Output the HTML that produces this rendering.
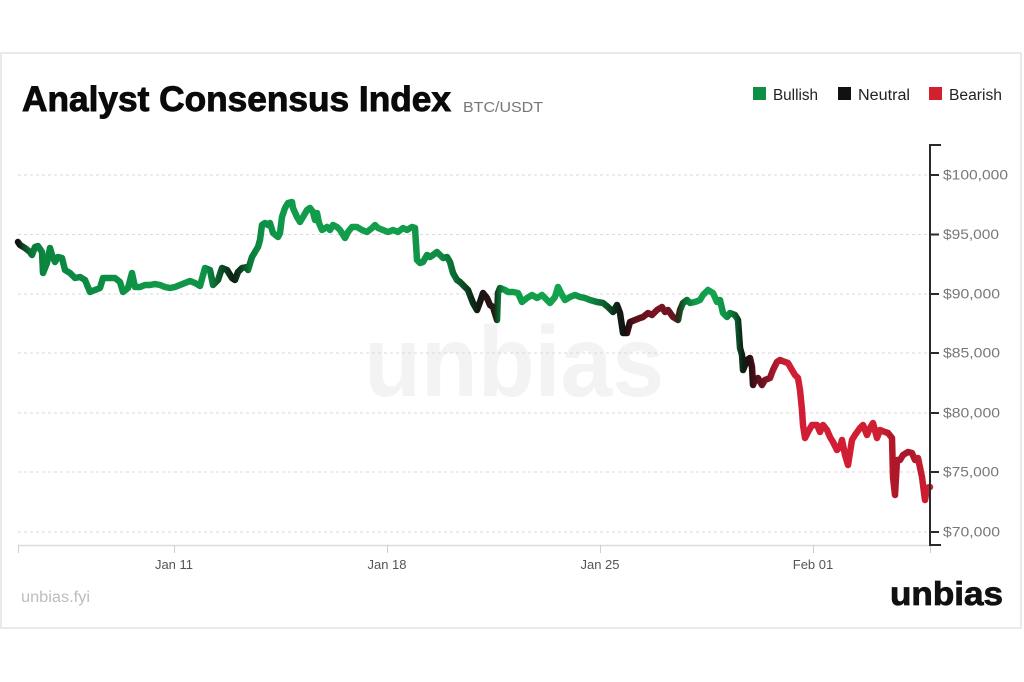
<!DOCTYPE html>
<html>
<head>
<meta charset="utf-8">
<style>
  html,body{margin:0;padding:0;background:#fff;}
  svg{display:block;}
  text{font-family:"Liberation Sans",sans-serif;}
</style>
</head>
<body>
<svg width="1024" height="682" viewBox="0 0 1024 682" xmlns="http://www.w3.org/2000/svg">
  <defs>
    <linearGradient id="lg" gradientUnits="userSpaceOnUse" x1="0" y1="0" x2="1000" y2="0">
      <stop offset="0.018" stop-color="#111111"/>
      <stop offset="0.024" stop-color="#0c4a24"/>
      <stop offset="0.032" stop-color="#0a7a3a"/>
      <stop offset="0.045" stop-color="#0b8640"/>
      <stop offset="0.100" stop-color="#0c8c43"/>
      <stop offset="0.160" stop-color="#109a49"/>
      <stop offset="0.205" stop-color="#0e9246"/>
      <stop offset="0.215" stop-color="#0b6a33"/>
      <stop offset="0.225" stop-color="#0a3d1f"/>
      <stop offset="0.233" stop-color="#0c1f12"/>
      <stop offset="0.240" stop-color="#0b3a1e"/>
      <stop offset="0.250" stop-color="#0a7a3a"/>
      <stop offset="0.262" stop-color="#0d9045"/>
      <stop offset="0.300" stop-color="#119c4b"/>
      <stop offset="0.400" stop-color="#129e4c"/>
      <stop offset="0.440" stop-color="#0e8a43"/>
      <stop offset="0.455" stop-color="#0a6a32"/>
      <stop offset="0.468" stop-color="#0c3a1e"/>
      <stop offset="0.478" stop-color="#101a12"/>
      <stop offset="0.488" stop-color="#2a1015"/>
      <stop offset="0.494" stop-color="#1f2216"/>
      <stop offset="0.498" stop-color="#0d5c2c"/>
      <stop offset="0.505" stop-color="#0f9a49"/>
      <stop offset="0.560" stop-color="#13a44e"/>
      <stop offset="0.590" stop-color="#0f8a42"/>
      <stop offset="0.605" stop-color="#0b5e2d"/>
      <stop offset="0.615" stop-color="#0c2a17"/>
      <stop offset="0.625" stop-color="#150f10"/>
      <stop offset="0.635" stop-color="#5a1019"/>
      <stop offset="0.655" stop-color="#7a1422"/>
      <stop offset="0.672" stop-color="#6a1520"/>
      <stop offset="0.678" stop-color="#2a2a18"/>
      <stop offset="0.684" stop-color="#0b6a33"/>
      <stop offset="0.695" stop-color="#0f9a49"/>
      <stop offset="0.715" stop-color="#13a44e"/>
      <stop offset="0.728" stop-color="#0d8a42"/>
      <stop offset="0.736" stop-color="#0a5a2c"/>
      <stop offset="0.742" stop-color="#0c2414"/>
      <stop offset="0.748" stop-color="#1e1010"/>
      <stop offset="0.755" stop-color="#4a0f18"/>
      <stop offset="0.765" stop-color="#7a1422"/>
      <stop offset="0.778" stop-color="#b81a2e"/>
      <stop offset="0.790" stop-color="#d21e34"/>
      <stop offset="0.880" stop-color="#d01e33"/>
      <stop offset="0.892" stop-color="#b0182a"/>
      <stop offset="0.910" stop-color="#a8182a"/>
      <stop offset="0.920" stop-color="#c41c30"/>
      <stop offset="0.930" stop-color="#d21e34"/>
    </linearGradient>
  </defs>

  <!-- card -->
  <rect x="1" y="53" width="1020" height="575" fill="#ffffff" stroke="#e3e3e3" stroke-width="1.5"/>

  <!-- title -->
  <text x="22" y="111" font-size="35" font-weight="bold" fill="#0a0a0a" stroke="#0a0a0a" stroke-width="0.9" textLength="429" lengthAdjust="spacingAndGlyphs">Analyst Consensus Index</text>
  <text x="463" y="112" font-size="15" fill="#777" textLength="80" lengthAdjust="spacingAndGlyphs">BTC/USDT</text>

  <!-- legend -->
  <rect x="753" y="87" width="13" height="13" fill="#0d8f45"/>
  <text x="773" y="100" font-size="15.5" fill="#222" textLength="45" lengthAdjust="spacingAndGlyphs">Bullish</text>
  <rect x="838" y="87" width="13" height="13" fill="#111"/>
  <text x="858" y="100" font-size="15.5" fill="#222" textLength="52" lengthAdjust="spacingAndGlyphs">Neutral</text>
  <rect x="929" y="87" width="13" height="13" fill="#d2202f"/>
  <text x="949" y="100" font-size="15.5" fill="#222" textLength="53" lengthAdjust="spacingAndGlyphs">Bearish</text>

  <!-- watermark -->
  <text x="364" y="396" font-size="100" font-weight="bold" fill="#f3f3f3" textLength="300" lengthAdjust="spacingAndGlyphs">unbias</text>

  <!-- gridlines -->
  <g stroke="#d9d9d9" stroke-width="1" stroke-dasharray="3 3">
    <line x1="18" y1="175" x2="930" y2="175"/>
    <line x1="18" y1="234.5" x2="930" y2="234.5"/>
    <line x1="18" y1="294" x2="930" y2="294"/>
    <line x1="18" y1="353" x2="930" y2="353"/>
    <line x1="18" y1="413" x2="930" y2="413"/>
    <line x1="18" y1="472" x2="930" y2="472"/>
    <line x1="18" y1="532" x2="930" y2="532"/>
  </g>

  <!-- x axis -->
  <line x1="18" y1="545.5" x2="930" y2="545.5" stroke="#dcdcdc" stroke-width="1.5"/>
  <g stroke="#cfcfcf" stroke-width="1">
    <line x1="18.5" y1="545" x2="18.5" y2="553"/>
    <line x1="174.5" y1="545" x2="174.5" y2="553"/>
    <line x1="387.5" y1="545" x2="387.5" y2="553"/>
    <line x1="600.5" y1="545" x2="600.5" y2="553"/>
    <line x1="813.5" y1="545" x2="813.5" y2="553"/>
    <line x1="930.5" y1="545" x2="930.5" y2="553"/>
  </g>
  <g font-size="13" fill="#555" text-anchor="middle">
    <text x="174" y="569">Jan 11</text>
    <text x="387" y="569">Jan 18</text>
    <text x="600" y="569">Jan 25</text>
    <text x="813" y="569">Feb 01</text>
  </g>

  <!-- series -->
  <polyline fill="none" stroke="url(#lg)" stroke-width="6.5" stroke-linejoin="round" stroke-linecap="round"
    points="18,242 20,245 25,248 30,252 32,255 35,247 38,246 42,252 43,273 47,263 50,248 52,255 55,262 58,257 62,258 65,270 70,273 75,278 80,277 85,280 90,292 95,290 100,288 103,278 108,278 115,278 120,282 123,292 128,288 132,273 135,287 140,287 145,285 150,285 155,284 160,285 165,287 170,288 175,287 180,285 185,283 190,281 195,283 200,286 205,268 210,270 213,285 218,280 222,268 227,270 232,278 235,280 238,272 242,268 247,267 248,270 252,257 255,252 258,247 260,240 262,225 265,223 268,225 270,223 273,233 278,237 280,233 282,217 285,208 288,203 292,202 293,208 297,217 300,222 303,217 307,210 310,208 313,212 315,220 317,213 319,223 322,230 327,227 330,230 333,225 337,227 340,230 345,238 348,232 352,227 357,227 362,230 367,232 372,228 375,225 378,228 383,230 388,232 393,230 398,232 403,228 407,230 412,227 415,228 417,260 420,263 423,262 427,255 430,257 433,255 437,252 440,255 443,258 447,257 450,262 453,273 457,280 460,282 463,285 468,290 473,303 477,310 480,302 483,293 487,298 490,305 493,307 497,320 498,293 500,288 505,290 508,292 513,292 518,293 522,302 527,298 532,295 537,298 542,295 545,298 550,303 555,297 558,287 562,295 565,300 570,297 575,295 580,297 585,298 590,300 597,302 603,303 608,307 613,312 617,305 620,313 623,333 627,333 630,322 635,320 640,318 643,317 648,313 652,315 657,310 662,307 665,312 668,310 673,317 678,320 680,310 683,303 687,300 690,303 695,302 700,300 703,295 708,290 713,293 717,302 720,300 723,313 727,317 730,313 735,315 738,320 740,348 742,355 743,370 747,360 750,358 752,367 753,385 755,380 758,378 762,385 765,380 770,378 773,370 777,362 780,360 785,362 788,363 792,370 795,375 798,378 800,390 802,410 803,425 805,438 808,432 812,425 817,425 820,432 823,425 827,430 830,437 833,442 837,450 840,447 842,440 845,455 848,465 852,440 855,435 860,428 863,425 867,435 870,428 873,423 877,438 880,430 885,432 888,433 892,438 893,477 895,495 897,460 900,460 903,455 908,452 912,453 915,460 918,458 922,477 925,500 927,488 930,487"/>

  <!-- y axis -->
  <g stroke="#2a2a2a" stroke-width="2" fill="none">
    <polyline points="941,145 930,145 930,545 941,545"/>
    <line x1="930" y1="175" x2="939" y2="175"/>
    <line x1="930" y1="234.5" x2="939" y2="234.5"/>
    <line x1="930" y1="294" x2="939" y2="294"/>
    <line x1="930" y1="353" x2="939" y2="353"/>
    <line x1="930" y1="413" x2="939" y2="413"/>
    <line x1="930" y1="472" x2="939" y2="472"/>
    <line x1="930" y1="532" x2="939" y2="532"/>
  </g>
  <g font-size="13.5" fill="#777">
    <text x="943" y="179.5" textLength="65" lengthAdjust="spacingAndGlyphs">$100,000</text>
    <text x="943" y="239" textLength="56" lengthAdjust="spacingAndGlyphs">$95,000</text>
    <text x="943" y="298.5" textLength="57" lengthAdjust="spacingAndGlyphs">$90,000</text>
    <text x="943" y="357.5" textLength="57" lengthAdjust="spacingAndGlyphs">$85,000</text>
    <text x="943" y="417.5" textLength="57" lengthAdjust="spacingAndGlyphs">$80,000</text>
    <text x="943" y="476.5" textLength="56" lengthAdjust="spacingAndGlyphs">$75,000</text>
    <text x="943" y="536.5" textLength="57" lengthAdjust="spacingAndGlyphs">$70,000</text>
  </g>

  <!-- footer -->
  <text x="21" y="602" font-size="15.5" fill="#bdbdbd" textLength="69" lengthAdjust="spacingAndGlyphs">unbias.fyi</text>
  <text x="890" y="605" font-size="33" font-weight="bold" fill="#111" stroke="#111" stroke-width="0.8" textLength="113" lengthAdjust="spacingAndGlyphs">unbias</text>
</svg>
</body>
</html>
